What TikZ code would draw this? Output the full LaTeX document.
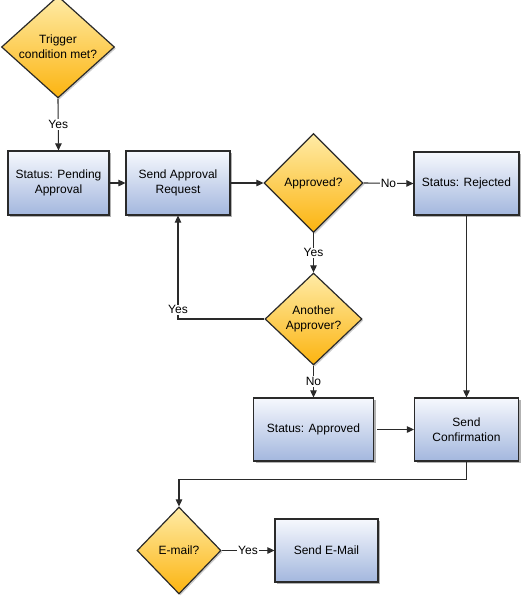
\documentclass[tikz,border=0pt]{standalone}
\usepackage{fontspec}
\setmainfont{Liberation Sans}
\usetikzlibrary{shapes.geometric,arrows.meta,shadows}
\definecolor{boxtop}{HTML}{F6F8FD}
\definecolor{boxbot}{HTML}{A3B7DE}
\definecolor{dtop}{HTML}{FEEBA6}
\definecolor{dbot}{HTML}{FCB410}
\definecolor{edge}{HTML}{2A2A2A}
\tikzset{
  every node/.style={font=\fontsize{12}{15}\selectfont, text=black},
  stepbox/.style={rectangle, draw=edge, line width=1.2pt, top color=boxtop, bottom color=boxbot,
    align=center, inner sep=2pt,
    drop shadow={shadow xshift=2pt, shadow yshift=-2pt, fill=black, opacity=0.3}},
  decide/.style={diamond, draw=edge, line width=1.2pt, top color=dtop, bottom color=dbot,
    align=center, inner sep=0pt,
    drop shadow={shadow xshift=1.5pt, shadow yshift=-1.5pt, fill=black, opacity=0.2}},
  conn/.style={draw=edge, line width=1.1pt, -{Triangle[length=7pt,width=6.5pt]}},
  lab/.style={fill=white, inner sep=1pt}
}
\begin{document}
\begin{tikzpicture}[x=1pt,y=-1pt]
\useasboundingbox (0,0) rectangle (523,600);
\node[decide, minimum width=113pt, minimum height=92pt] (trig) at (58,47) {Trigger\\condition met?};
\node[stepbox, minimum width=101pt, minimum height=64pt] (pend) at (58.5,183) {Status: Pending\\Approval};
\node[stepbox, minimum width=104pt, minimum height=64pt] (send) at (178,183) {Send Approval\\Request};
\node[decide, minimum width=99pt, minimum height=99pt] (appr) at (313.5,183) {Approved?};
\node[stepbox, minimum width=105pt, minimum height=63pt] (rej) at (466.5,183.5) {Status: Rejected};
\node[decide, minimum width=97pt, minimum height=92pt] (anoth) at (313.5,319) {Another\\Approver?};
\node[stepbox, minimum width=120pt, minimum height=63pt] (apprd) at (313.5,429.5) {Status: Approved};
\node[stepbox, minimum width=104pt, minimum height=63pt] (conf) at (466.5,429.5) {Send\\Confirmation};
\node[decide, minimum width=84pt, minimum height=87pt] (email) at (179,550.5) {E-mail?};
\node[stepbox, minimum width=103pt, minimum height=63pt] (sendm) at (326.5,550.5) {Send E-Mail};

\draw[conn] (trig.south) -- node[lab] {Yes} (pend.north);
\draw[conn] (pend.east) -- (send.west);
\draw[conn] (send.east) -- (appr.west);
\draw[conn] (appr.east) -- node[lab] {No} (rej.west);
\draw[conn] (appr.south) -- node[lab] {Yes} (anoth.north);
\draw[conn] (anoth.west) -| node[lab, pos=0.545] {Yes} (send.south);
\draw[conn] (anoth.south) -- node[lab] {No} (apprd.north);
\draw[conn] (rej.south) -- (conf.north);
\draw[conn, shorten <=3pt] (apprd.east) -- (conf.west);
\draw[conn] (conf.south) -- ++(0,18) -| (email.north);
\draw[conn] (email.east) -- node[lab] {Yes} (sendm.west);
\end{tikzpicture}
\end{document}
